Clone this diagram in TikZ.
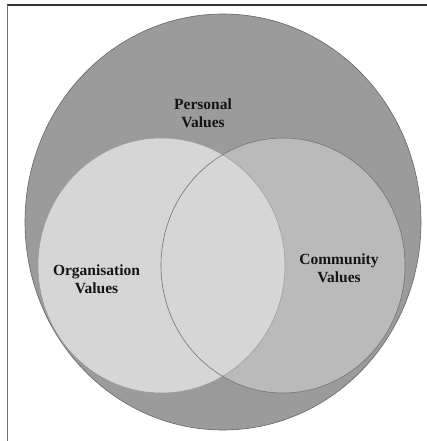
\documentclass[tikz,border=0pt]{standalone}
\usepackage{fontspec}
\setmainfont{Liberation Serif}
\definecolor{outerfill}{RGB}{155,155,155}
\definecolor{orgfill}{RGB}{214,214,214}
\definecolor{comfill}{RGB}{186,186,186}
\begin{document}
\begin{tikzpicture}[x=1pt,y=-1pt,
  frameline/.style={line width=1.2pt},
  outerset/.style={fill=outerfill, draw=black!60, line width=0.6pt},
  orgset/.style={fill=orgfill},
  comset/.style={fill=comfill},
  label/.style={font=\fontsize{15.5}{18}\selectfont\bfseries, align=center, text=black!92}
]
\useasboundingbox (0,0) rectangle (427,441);
% page frame (top and left rules)
\draw[frameline, black!80] (7,5) -- (427,5);
\draw[line width=0.8pt, black!55] (7,5) -- (7,441);

% outer set
\draw[outerset] (223,222) ellipse [x radius=198, y radius=208];
% inner sets: fills first, outlines after
\fill[comset] (283,265.5) ellipse [x radius=122, y radius=127.5];
\fill[orgset] (161.5,265.5) ellipse [x radius=123.5, y radius=127.5];
\draw[black!40, line width=0.5pt] (161.5,265.5) ellipse [x radius=123.5, y radius=127.5];
\draw[black!55, line width=0.6pt] (283,265.5) ellipse [x radius=122, y radius=127.5];

% labels
\node[label] (personal) at (203,113) {Personal\\Values};
\node[label] (org) at (96.5,279) {Organisation\\Values};
\node[label] (com) at (339,268) {Community\\Values};
\end{tikzpicture}
\end{document}
